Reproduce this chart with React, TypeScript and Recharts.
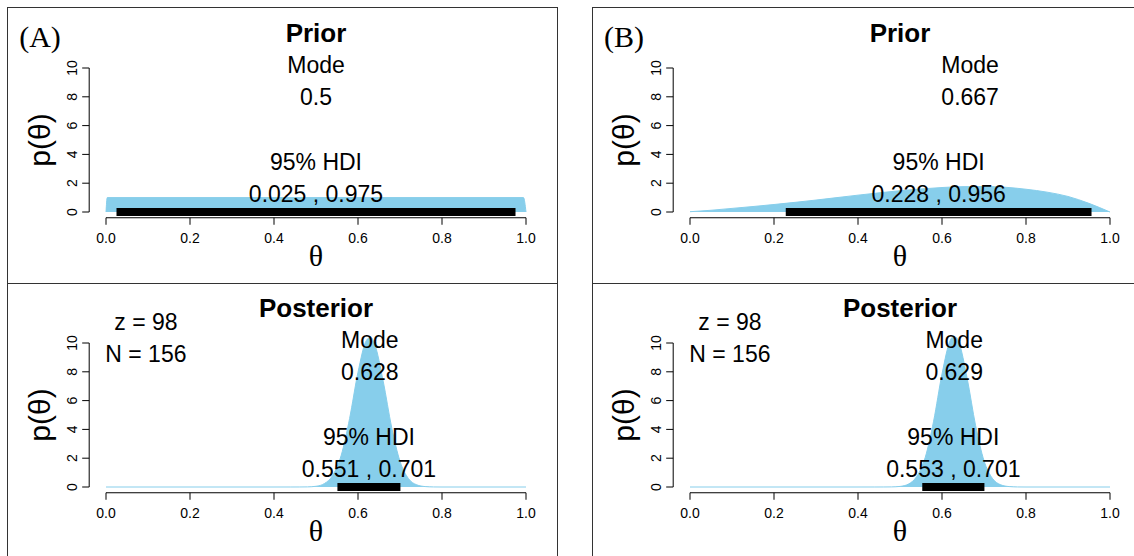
import React from "react";
import {
  ComposedChart,
  Area,
  Line,
  XAxis,
  YAxis,
  ReferenceLine,
  ReferenceDot,
} from "recharts";

const SANS = "'Liberation Sans', Arial, Helvetica, sans-serif";
const SERIF = "'Liberation Serif', 'Times New Roman', serif";
const SKY = "#87CEEB";

// axis ticks
const xTicks = [0, 0.2, 0.4, 0.6, 0.8, 1.0];
const yTicks = [0, 2, 4, 6, 8, 10];

// (A) prior: flat
const priorAThetas = [0, 0.003, 0.1, 0.2, 0.3, 0.4, 0.5, 0.6, 0.7, 0.8, 0.9, 0.994, 1];
const priorADensity = [0, 1, 1, 1, 1, 1, 1, 1, 1, 1, 1, 1, 0];
const priorAMode = 0.5;
const priorAHdi = [0.025, 0.975];

// (B) prior: skewed to the right
const priorBThetas = [
  0, 0.05, 0.1, 0.15, 0.2, 0.25, 0.3, 0.35, 0.4, 0.45, 0.5, 0.55, 0.6, 0.65, 0.7,
  0.75, 0.8, 0.85, 0.9, 0.95, 1.0,
];
const priorBDensity = [
  0.02, 0.12, 0.25, 0.38, 0.52, 0.67, 0.83, 1.0, 1.17, 1.33, 1.48, 1.6, 1.7, 1.76,
  1.77, 1.72, 1.58, 1.38, 1.08, 0.6, 0,
];
const priorBMode = 0.667;
const priorBHdi = [0.228, 0.956];

// posteriors
const postThetas = [
  0, 0.1, 0.2, 0.3, 0.4, 0.44, 0.46, 0.48, 0.5, 0.52, 0.54, 0.56, 0.58, 0.6, 0.62,
  0.63, 0.64, 0.66, 0.68, 0.7, 0.72, 0.74, 0.76, 0.78, 0.8, 0.9, 1,
];
const postADensity = [
  0, 0, 0, 0, 0, 0.001, 0.002, 0.008, 0.05, 0.24, 0.82, 2.2, 4.76, 7.97, 10.18,
  10.4, 9.9, 7.35, 4.16, 1.79, 0.59, 0.15, 0.03, 0.004, 0, 0, 0,
];
const postBDensity = [
  0, 0, 0, 0, 0, 0.001, 0.002, 0.007, 0.04, 0.2, 0.74, 2.05, 4.57, 7.85, 10.21,
  10.5, 10.07, 7.53, 4.27, 1.83, 0.6, 0.15, 0.03, 0.004, 0, 0, 0,
];
const postAMode = 0.628;
const postAHdi = [0.551, 0.701];
const postBMode = 0.629;
const postBHdi = [0.553, 0.701];

const zCount = 98;
const nCount = 156;

const CELL_W = 550;
const CELL_H = 275;

const XTick = (props: any) => {
  const { x, y, payload } = props;
  return (
    <text x={x} y={y + 11.5} dy="0.36em" textAnchor="middle" fontSize={14} fontFamily={SANS} fill="#000">
      {payload.value.toFixed(1)}
    </text>
  );
};

const YTick = (props: any) => {
  const { x, y, payload } = props;
  const bx = x - 3;
  return (
    <text x={bx} y={y} transform={`rotate(-90 ${bx} ${y})`} textAnchor="middle" fontSize={14} fontFamily={SANS} fill="#000">
      {payload.value}
    </text>
  );
};

const textShape = (text: string, size = 23) => (p: any) => (
  <text x={p.cx} y={p.cy} dy="0.36em" textAnchor="middle" fontSize={size} fontFamily={SANS} fill="#000">
    {text}
  </text>
);

const Abs = ({ x, y, children, style }: any) => (
  <div
    style={{
      position: "absolute",
      left: x,
      top: y,
      transform: "translate(-50%, -50%)",
      lineHeight: 1,
      whiteSpace: "nowrap",
      ...style,
    }}
  >
    {children}
  </div>
);

type CellProps = {
  left: number;
  top: number;
  title: string;
  thetas: number[];
  density: number[];
  mode: number;
  hdi: number[];
  tag?: string;
  showCounts?: boolean;
};

function DensityCell({ left, top, title, thetas, density, mode, hdi, tag, showCounts }: CellProps) {
  const curve = thetas.map((t, i) => ({ x: t, y: density[i] }));
  const bar = hdi.map((h) => ({ x: h, y: 0 }));
  const hdiMid = (hdi[0] + hdi[1]) / 2;
  return (
    <div style={{ position: "absolute", left, top, width: CELL_W, height: CELL_H }}>
      <ComposedChart
        width={CELL_W}
        height={CELL_H}
        margin={{ top: 54.24, right: 15.2, bottom: 25.24, left: 41.2 }}
      >
        <XAxis
          type="number"
          dataKey="x"
          domain={[-0.04, 1.04]}
          ticks={xTicks}
          interval={0}
          allowDataOverflow
          axisLine={false}
          tickLine={{ stroke: "#000" }}
          tickSize={7}
          height={40}
          tick={<XTick />}
        />
        <YAxis
          type="number"
          domain={[-0.4, 10.4]}
          ticks={yTicks}
          interval={0}
          allowDataOverflow
          axisLine={false}
          tickLine={{ stroke: "#000" }}
          tickSize={7}
          width={40}
          tick={<YTick />}
        />
        <ReferenceLine segment={[{ x: 0, y: -0.4 }, { x: 1, y: -0.4 }]} stroke="#000" ifOverflow="visible" />
        <ReferenceLine segment={[{ x: -0.04, y: 0 }, { x: -0.04, y: 10 }]} stroke="#000" ifOverflow="visible" />
        <Area
          data={curve}
          dataKey="y"
          type="monotone"
          fill={SKY}
          fillOpacity={1}
          stroke={SKY}
          strokeWidth={1}
          isAnimationActive={false}
        />
        <Line
          data={bar}
          dataKey="y"
          type="linear"
          stroke="#000"
          strokeWidth={8}
          strokeLinecap="butt"
          dot={false}
          isAnimationActive={false}
        />
        <ReferenceDot x={mode} y={10.2} ifOverflow="visible" shape={textShape("Mode")} />
        <ReferenceDot x={mode} y={8.0} ifOverflow="visible" shape={textShape(String(mode))} />
        <ReferenceDot x={hdiMid} y={3.5} ifOverflow="visible" shape={textShape("95% HDI")} />
        <ReferenceDot x={hdiMid} y={1.3} ifOverflow="visible" shape={textShape(`${hdi[0]} , ${hdi[1]}`)} />
        {showCounts && (
          <ReferenceDot x={0.095} y={11.45} ifOverflow="visible" shape={textShape(`z = ${zCount}`)} />
        )}
        {showCounts && (
          <ReferenceDot x={0.095} y={9.25} ifOverflow="visible" shape={textShape(`N = ${nCount}`)} />
        )}
      </ComposedChart>
      <Abs x={308} y={25} style={{ fontFamily: SANS, fontWeight: "bold", fontSize: 26 }}>
        {title}
      </Abs>
      <Abs x={32} y={132} style={{ fontFamily: SANS, fontSize: 30, transform: "translate(-50%, -50%) rotate(-90deg)" }}>
        p(θ)
      </Abs>
      <Abs x={308} y={248} style={{ fontFamily: SERIF, fontSize: 30 }}>
        θ
      </Abs>
      {tag && (
        <Abs x={32} y={29} style={{ fontFamily: SERIF, fontSize: 30 }}>
          {tag}
        </Abs>
      )}
    </div>
  );
}

const Frame = ({ left }: { left: number }) => (
  <>
    <div
      style={{
        position: "absolute",
        left,
        top: 7,
        width: 551,
        height: 600,
        border: "1px solid #333",
        boxSizing: "border-box",
      }}
    />
    <div style={{ position: "absolute", left, top: 283, width: 551, height: 1, background: "#333" }} />
  </>
);

export default function App() {
  return (
    <div
      style={{
        position: "absolute",
        left: 0,
        top: 0,
        width: 1134,
        height: 556,
        overflow: "hidden",
        background: "#fff",
      }}
    >
      <Frame left={7} />
      <Frame left={592} />
      <DensityCell left={8} top={8} title="Prior" thetas={priorAThetas} density={priorADensity} mode={priorAMode} hdi={priorAHdi} tag="(A)" />
      <DensityCell left={8} top={283} title="Posterior" thetas={postThetas} density={postADensity} mode={postAMode} hdi={postAHdi} showCounts />
      <DensityCell left={592} top={8} title="Prior" thetas={priorBThetas} density={priorBDensity} mode={priorBMode} hdi={priorBHdi} tag="(B)" />
      <DensityCell left={592} top={283} title="Posterior" thetas={postThetas} density={postBDensity} mode={postBMode} hdi={postBHdi} showCounts />
    </div>
  );
}
